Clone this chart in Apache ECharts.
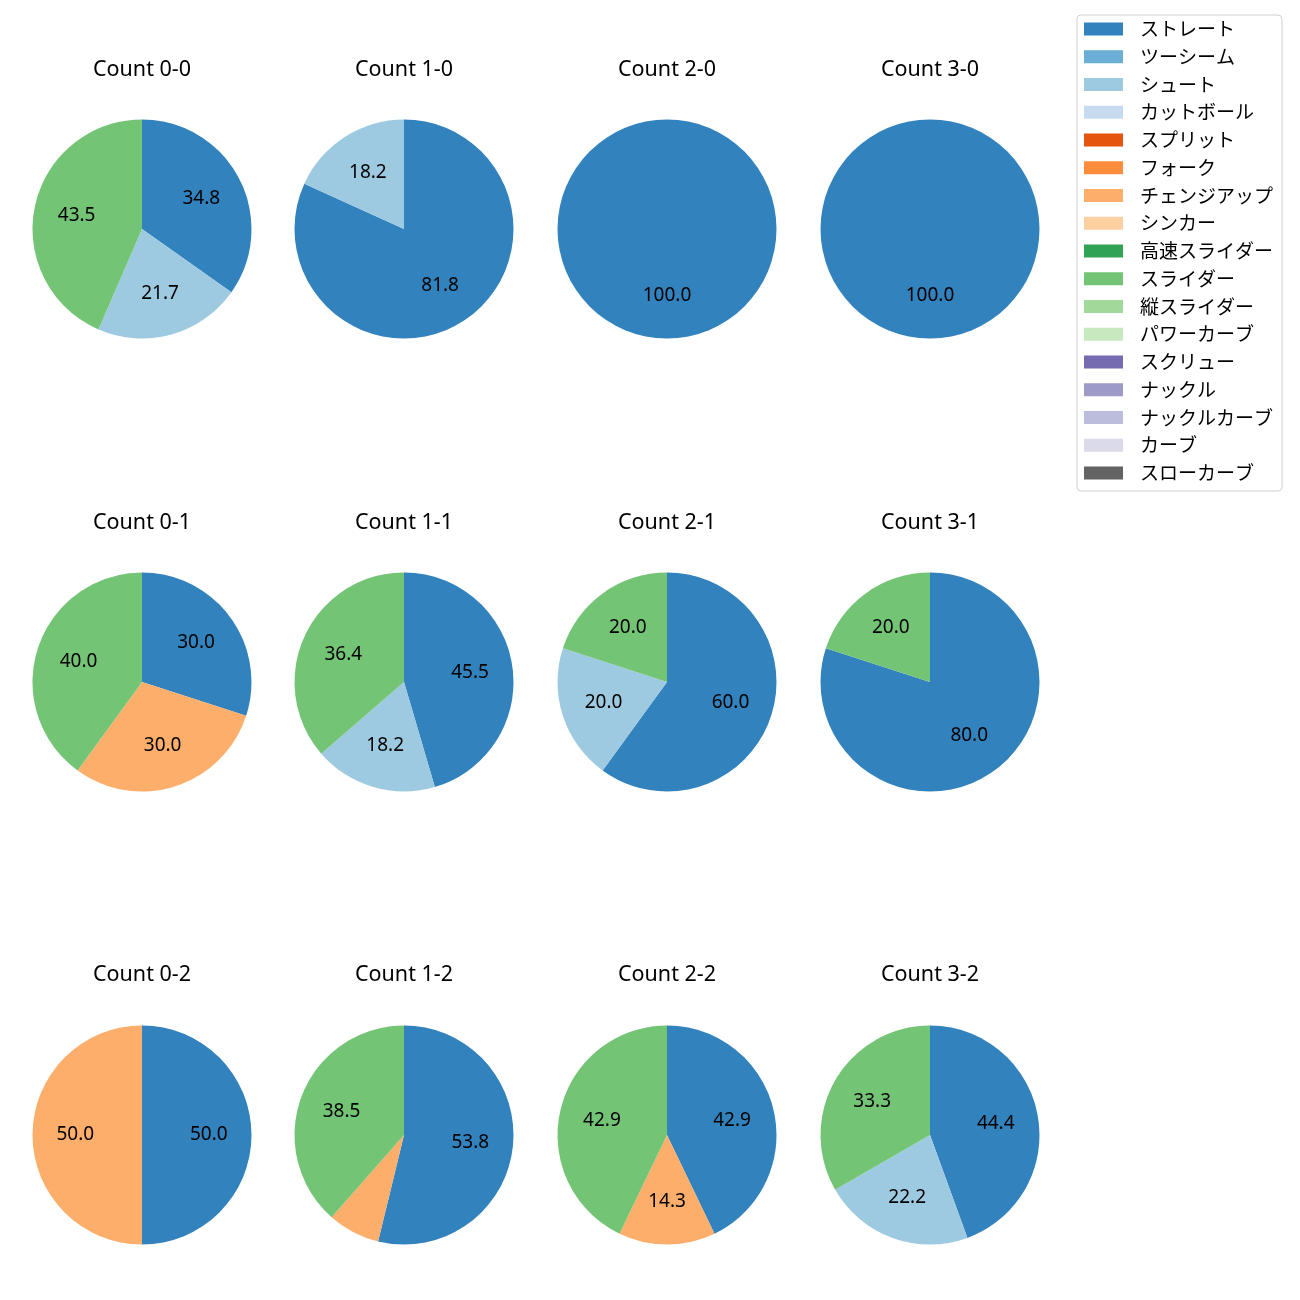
<!DOCTYPE html>
<html>
<head>
<meta charset="utf-8">
<script src="https://cdn.jsdelivr.net/npm/echarts@6/dist/echarts.min.js"></script>
<style>
html,body{margin:0;padding:0;background:#fff;}
#chart{width:1300px;height:1300px;}
</style>
</head>
<body>
<div id="chart"></div>
<script>
// ---- data ----
const counts = ['0-0','1-0','2-0','3-0','0-1','1-1','2-1','3-1','0-2','1-2','2-2','3-2'];
const pitchTypes = ['ストレート','ツーシーム','シュート','カットボール','スプリット','フォーク','チェンジアップ','シンカー','高速スライダー','スライダー','縦スライダー','パワーカーブ','スクリュー','ナックル','ナックルカーブ','カーブ','スローカーブ'];
const pitchColors = ['#3182bd','#6baed6','#9ecae1','#c6dbef','#e6550d','#fd8d3c','#fdae6b','#fdd0a2','#31a354','#74c476','#a1d99b','#c7e9c0','#756bb1','#9e9ac8','#bcbddc','#dadaeb','#636363'];
// percentages per count (same order as counts)
const straight = [34.8, 81.8, 100.0, 100.0, 30.0, 45.5, 60.0, 80.0, 50.0, 53.8, 42.9, 44.4];
const shoot    = [21.7, 18.2, 0, 0, 0, 18.2, 20.0, 0, 0, 0, 0, 22.2];
const changeup = [0, 0, 0, 0, 30.0, 0, 0, 0, 50.0, 7.7, 14.3, 0];
const slider   = [43.5, 0, 0, 0, 40.0, 36.4, 20.0, 20.0, 0, 38.5, 42.9, 33.3];

const seriesByType = {'ストレート': straight, 'シュート': shoot, 'チェンジアップ': changeup, 'スライダー': slider};

// ---- layout ----
const colX = [142, 404, 667, 930];
const rowY = [229, 682, 1135];
const titleY = [70, 523, 975];
const R = 109.5;
const R_LABEL_INNER = 18; // label ring inner radius -> labels near 0.58 R
const LATIN = '"Noto Sans", "Noto Sans CJK JP", sans-serif';
const JP = '"Noto Sans CJK JP", "Noto Sans", sans-serif';

const chart = echarts.init(document.getElementById('chart'), null, {renderer: 'canvas'});

const titles = [];
const series = [];

// legend provider (hidden)
series.push({
  type: 'pie', center: [-500, -500], radius: [0, 1], silent: true,
  label: {show: false}, labelLine: {show: false},
  data: pitchTypes.map((n, i) => ({name: n, value: 1, itemStyle: {color: pitchColors[i]}}))
});

counts.forEach((c, k) => {
  const col = k % 4, row = Math.floor(k / 4);
  const cx = colX[col], cy = rowY[row];
  titles.push({
    text: 'Count ' + c, left: cx, top: titleY[row], textAlign: 'center', textVerticalAlign: 'middle',
    padding: 0,
    textStyle: {fontFamily: LATIN, fontSize: 21.5, fontWeight: 'normal', color: '#000'}
  });
  const data = [];
  pitchTypes.forEach((n, i) => {
    const arr = seriesByType[n];
    if (arr && arr[k] > 0) data.push({name: n, value: arr[k], itemStyle: {color: pitchColors[i]}});
  });
  series.push({
    type: 'pie', center: [cx, cy], radius: [0, R], startAngle: 90, clockwise: true,
    avoidLabelOverlap: false, silent: true,
    itemStyle: {borderWidth: 0},
    label: {show: false}, labelLine: {show: false},
    emphasis: {disabled: true},
    data: data
  });
  // transparent label ring
  series.push({
    type: 'pie', center: [cx, cy], radius: [R_LABEL_INNER, R], startAngle: 90, clockwise: true,
    avoidLabelOverlap: false, silent: true,
    itemStyle: {color: 'rgba(0,0,0,0)', borderWidth: 0},
    label: {
      show: true, position: 'inside', color: '#000', fontFamily: LATIN, fontSize: 19,
      formatter: p => p.value >= 10 ? p.value.toFixed(1) : ''
    },
    labelLine: {show: false},
    emphasis: {disabled: true},
    data: data.map(d => ({name: d.name, value: d.value, itemStyle: {color: 'rgba(0,0,0,0)'}}))
  });
});

chart.setOption({
  animation: false,
  backgroundColor: '#fff',
  title: titles,
  legend: {
    orient: 'vertical', left: 1077, top: 15,
    padding: [4.5, 9, 8.5, 7],
    itemWidth: 39, itemHeight: 13, itemGap: 8.75,
    icon: 'rect',
    borderColor: '#d0d0d0', borderWidth: 1, borderRadius: 4,
    selectedMode: false,
    textStyle: {fontFamily: JP, fontSize: 19, lineHeight: 19, color: '#000', padding: [0, 0, 0, 12]},
    data: pitchTypes.map((n, i) => ({name: n, itemStyle: {color: pitchColors[i]}}))
  },
  series: series
});
</script>
</body>
</html>
